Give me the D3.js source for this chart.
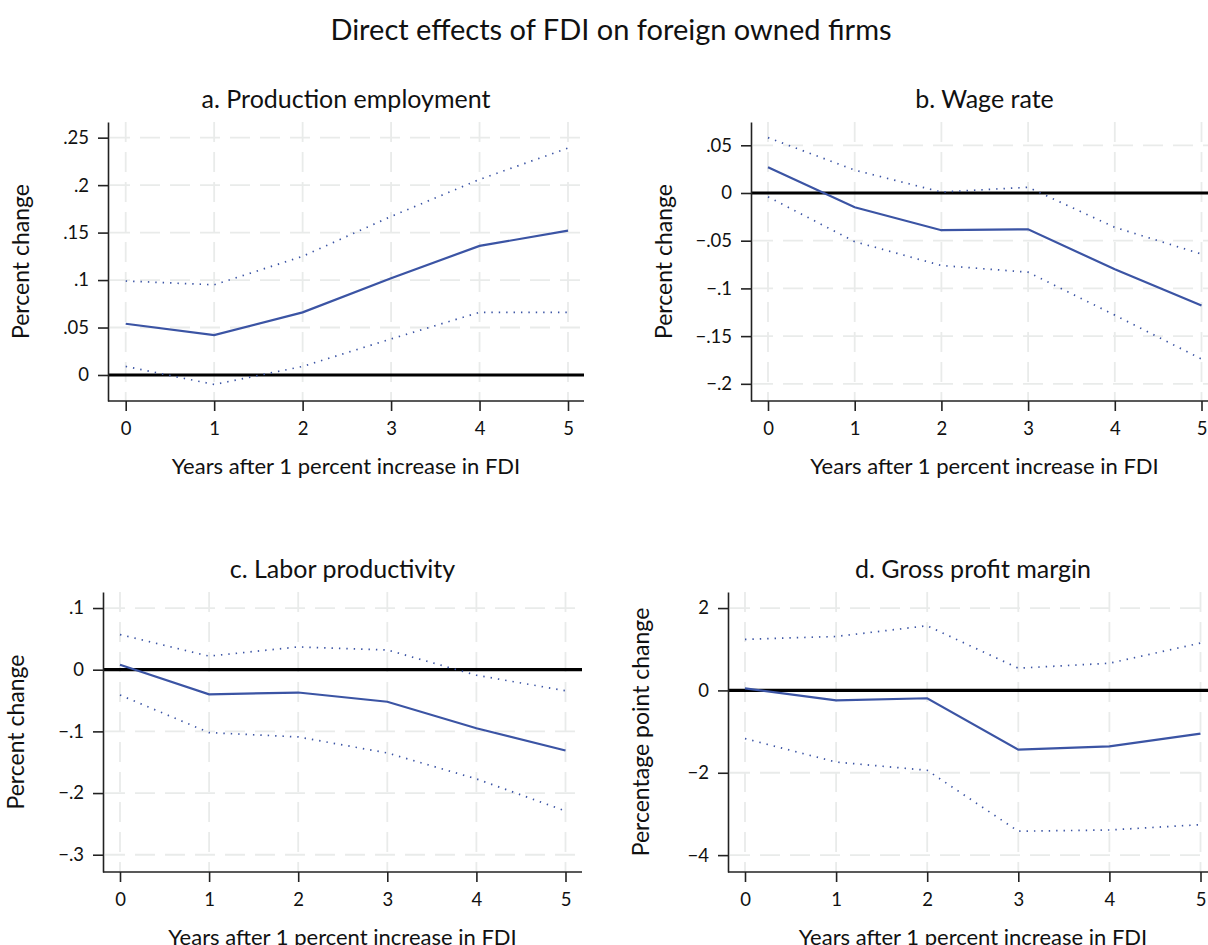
<!DOCTYPE html>
<html>
<head>
<meta charset="utf-8">
<script src="https://cdn.jsdelivr.net/npm/d3@7"></script>
<style>
    body { margin: 0; background: #fff; }
    svg { display: block; font-family: Lato, "Open Sans", sans-serif; }
</style>
</head>
<body>
<svg id="chart" width="1208" height="945"></svg>
<script>
// Years after the FDI shock (x axis of every panel)
const years = [0, 1, 2, 3, 4, 5];

// a. Production employment
const empEst   = [0.054, 0.042, 0.066, 0.102, 0.136, 0.152];
const empUpper = [0.099, 0.095, 0.125, 0.167, 0.206, 0.239];
const empLower = [0.009, -0.010, 0.009, 0.038, 0.066, 0.066];
const empTicks = [0, 0.05, 0.1, 0.15, 0.2, 0.25];
const empTickLabels = ["0", ".05", ".1", ".15", ".2", ".25"];

// b. Wage rate
const wageEst   = [0.027, -0.015, -0.039, -0.038, -0.080, -0.118];
const wageUpper = [0.058, 0.024, 0.001, 0.006, -0.036, -0.064];
const wageLower = [-0.004, -0.051, -0.076, -0.083, -0.128, -0.174];
const wageTicks = [-0.2, -0.15, -0.1, -0.05, 0, 0.05];
const wageTickLabels = ["\u2212.2", "\u2212.15", "\u2212.1", "\u2212.05", "0", ".05"];

// c. Labor productivity
const prodEst   = [0.008, -0.040, -0.037, -0.052, -0.095, -0.131];
const prodUpper = [0.057, 0.022, 0.037, 0.032, -0.009, -0.034];
const prodLower = [-0.041, -0.102, -0.109, -0.135, -0.177, -0.229];
const prodTicks = [-0.3, -0.2, -0.1, 0, 0.1];
const prodTickLabels = ["\u2212.3", "\u2212.2", "\u2212.1", "0", ".1"];

// d. Gross profit margin
const marginEst   = [0.05, -0.24, -0.19, -1.44, -1.36, -1.05];
const marginUpper = [1.24, 1.31, 1.57, 0.54, 0.66, 1.15];
const marginLower = [-1.17, -1.74, -1.94, -3.42, -3.39, -3.26];
const marginTicks = [-4, -2, 0, 2];
const marginTickLabels = ["\u22124", "\u22122", "0", "2"];

const xLabel = "Years after 1 percent increase in FDI";
const lineColor = "#3b54a4";

const panels = [
    { title: "a. Production employment", ylabel: "Percent change",
      est: empEst, upper: empUpper, lower: empLower,
      ticks: empTicks, tickLabels: empTickLabels, domain: [-0.0274, 0.2665],
      left: 108, right: 584, top: 122, bottom: 401, x0: 125.7, x5: 568 },
    { title: "b. Wage rate", ylabel: "Percent change",
      est: wageEst, upper: wageUpper, lower: wageLower,
      ticks: wageTicks, tickLabels: wageTickLabels, domain: [-0.218, 0.0744],
      left: 751, right: 1218, top: 122, bottom: 401, x0: 768, x5: 1201.5 },
    { title: "c. Labor productivity", ylabel: "Percent change",
      est: prodEst, upper: prodUpper, lower: prodLower,
      ticks: prodTicks, tickLabels: prodTickLabels, domain: [-0.328, 0.126],
      left: 103, right: 582, top: 592, bottom: 872, x0: 120, x5: 565.5 },
    { title: "d. Gross profit margin", ylabel: "Percentage point change",
      est: marginEst, upper: marginUpper, lower: marginLower,
      ticks: marginTicks, tickLabels: marginTickLabels, domain: [-4.41, 2.39],
      left: 728, right: 1218, top: 592, bottom: 872, x0: 745, x5: 1200.5 }
];

const svg = d3.select("#chart");

svg.append("text")
    .attr("x", 611)
    .attr("y", 40)
    .attr("text-anchor", "middle")
    .attr("font-size", 29)
    .attr("fill", "#111")
    .text("Direct effects of FDI on foreign owned firms");

function draw_panel(p) {
    const g = svg.append("g");

    ////////  Scales /////////////
    const xAxis = d3.scaleLinear().domain([0, 5]).range([p.x0, p.x5]);
    const yAxis = d3.scaleLinear().domain(p.domain).range([p.bottom, p.top]);

    ////////  Grid /////////////
    const grid = g.append("g")
        .attr("stroke", "#e9ebea")
        .attr("stroke-width", 1.8)
        .attr("stroke-dasharray", "20,10");
    grid.selectAll("line.h")
        .data(p.ticks)
        .join("line")
        .attr("class", "h")
        .attr("x1", p.left + 2)
        .attr("x2", p.right)
        .attr("y1", (d) => yAxis(d))
        .attr("y2", (d) => yAxis(d));
    grid.selectAll("line.v")
        .data(years)
        .join("line")
        .attr("class", "v")
        .attr("x1", (d) => xAxis(d))
        .attr("x2", (d) => xAxis(d))
        .attr("y1", p.top)
        .attr("y2", p.bottom - 1);

    // reference line at zero
    g.append("line")
        .attr("x1", p.left)
        .attr("x2", p.right)
        .attr("y1", yAxis(0))
        .attr("y2", yAxis(0))
        .attr("stroke", "#000")
        .attr("stroke-width", 3.2);

    ////////  Axes /////////////
    const yG = g.append("g")
        .attr("transform", "translate(" + p.left + ",0)")
        .call(d3.axisLeft(yAxis)
            .tickValues(p.ticks)
            .tickFormat((d, i) => p.tickLabels[i])
            .tickSize(10)
            .tickSizeOuter(0)
            .tickPadding(9));
    const xG = g.append("g")
        .attr("transform", "translate(0," + p.bottom + ")")
        .call(d3.axisBottom(xAxis)
            .tickValues(years)
            .tickFormat(d3.format("d"))
            .tickSize(10)
            .tickSizeOuter(0)
            .tickPadding(11));
    xG.select(".domain").remove();
    xG.append("line")
        .attr("x1", p.left)
        .attr("x2", p.right)
        .attr("stroke", "#222")
        .attr("stroke-width", 1.6);
    [yG, xG].forEach((ax) => {
        ax.selectAll("path.domain").attr("stroke", "#222").attr("stroke-width", 1.6);
        ax.selectAll(".tick line").attr("stroke", "#222").attr("stroke-width", 1.6);
        ax.selectAll(".tick text")
            .attr("font-family", "Lato, sans-serif")
            .attr("font-size", 18.5)
            .attr("fill", "#111");
    });

    ////////  Labels /////////////
    g.append("text")
        .attr("x", (p.left + p.right) / 2)
        .attr("y", p.top - 14)
        .attr("text-anchor", "middle")
        .attr("font-size", 25)
        .attr("fill", "#111")
        .text(p.title);
    g.append("text")
        .attr("x", (p.left + p.right) / 2)
        .attr("y", p.bottom + 73)
        .attr("text-anchor", "middle")
        .attr("font-size", 22)
        .attr("fill", "#111")
        .text(xLabel);
    const midY = (p.top + p.bottom) / 2;
    g.append("text")
        .attr("transform", "translate(" + (p.left - 79) + "," + midY + ")rotate(-90)")
        .attr("text-anchor", "middle")
        .attr("font-size", 23)
        .attr("fill", "#111")
        .text(p.ylabel);

    //////// Lines ///////////////
    const line = d3.line()
        .x((d, i) => xAxis(years[i]))
        .y((d) => yAxis(d));

    g.selectAll("path.ci")
        .data([p.upper, p.lower])
        .join("path")
        .attr("class", "ci")
        .attr("d", line)
        .attr("fill", "none")
        .attr("stroke", lineColor)
        .attr("stroke-width", 1.7)
        .attr("stroke-dasharray", "1.4,6");

    g.append("path")
        .attr("d", line(p.est))
        .attr("fill", "none")
        .attr("stroke", lineColor)
        .attr("stroke-width", 2.2);
}

panels.forEach(draw_panel);
</script>
</body>
</html>
